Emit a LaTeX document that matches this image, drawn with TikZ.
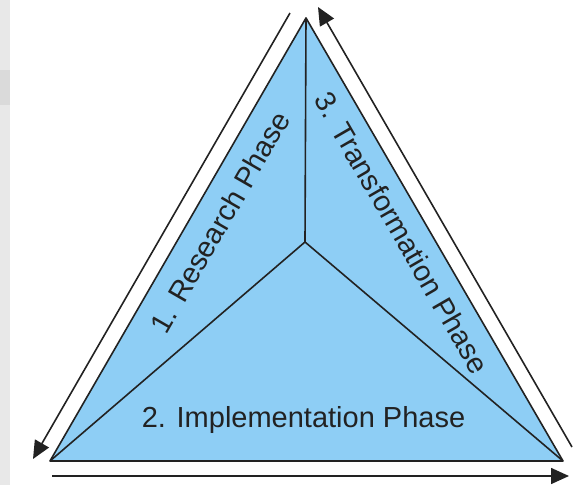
\documentclass[tikz,border=0pt]{standalone}
\usepackage{fontspec}
\setmainfont{Liberation Sans}
\usetikzlibrary{arrows.meta}
\definecolor{phasefill}{RGB}{142,206,245}
\definecolor{edgeline}{RGB}{34,34,34}
\definecolor{stripgray}{RGB}{232,232,232}
\definecolor{stripdark}{RGB}{218,218,218}
\begin{document}
\begin{tikzpicture}[x=1pt,y=-1pt,
  edge/.style={draw=edgeline,line width=1.6pt,line join=round},
  cycle arrow/.style={draw=edgeline,line width=1.6pt,
    -{Triangle[length=18pt,width=16pt]}},
  phase/.style={inner sep=0pt,text=edgeline,font=\fontsize{29}{34}\selectfont}]
\useasboundingbox (0,0) rectangle (574,485);
% soft grey strip on the left border
\fill[stripgray] (0,0) rectangle (10,485);
\fill[stripdark] (0,70) rectangle (10,105);
% corners of the triangle and its centre
\coordinate (top) at (306,18);
\coordinate (bl) at (50,461);
\coordinate (br) at (563,461);
\coordinate (mid) at (305,242);
% filled triangle divided into three phases
\path[edge,fill=phasefill] (top) -- (bl) -- (br) -- cycle;
\draw[edge] (mid) -- (top);
\draw[edge] (mid) -- (bl);
\draw[edge] (mid) -- (br);
% cycle arrows around the outside
\coordinate (la) at (290,13);
\coordinate (lb) at (33,459);
\coordinate (ba) at (52,476);
\coordinate (bb) at (569,476);
\coordinate (ra) at (572,447);
\coordinate (rb) at (318,7);
\draw[cycle arrow] (la) -- (lb);
\draw[cycle arrow] (ba) -- (bb);
\draw[cycle arrow] (ra) -- (rb);
% phase labels
\node[phase,rotate=60] (research) at (220,222) {1. Research Phase};
\node[phase,rotate=-60] (transform) at (402,233) {3. Transformation Phase};
\node[phase,anchor=base] (implement) at (303.5,427) {2. Implementation Phase};
\end{tikzpicture}
\end{document}
